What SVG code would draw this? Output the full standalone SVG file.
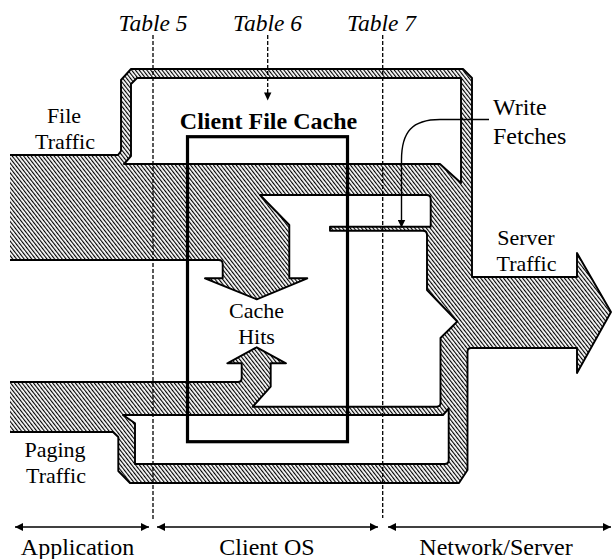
<svg xmlns="http://www.w3.org/2000/svg" width="612" height="559" viewBox="0 0 612 559" font-family="'Liberation Serif', 'Tinos', 'Noto Serif', 'DejaVu Serif', serif">
<defs>
<pattern id="hatch" patternUnits="userSpaceOnUse" width="3" height="10" patternTransform="rotate(-38)">
<rect x="0" y="0" width="1.15" height="10" fill="#000"/>
</pattern>
<marker id="ah" markerUnits="userSpaceOnUse" markerWidth="9" markerHeight="8" refX="8" refY="4" orient="auto-start-reverse">
<path d="M0,0 L8,4 L0,8 z" fill="#000"/>
</marker>
<style>
text{font-size:24px;fill:#000;text-anchor:middle}
.ml{font-size:22px}
.it{font-style:italic;font-size:23.5px}
.bd{font-weight:bold}
.st{text-anchor:start}
.outline{fill:none;stroke:#000;stroke-width:1.9;stroke-linejoin:round}
.dash{fill:none;stroke:#000;stroke-width:1.3;stroke-dasharray:4 2}
.conn{fill:none;stroke:#000;stroke-width:1.4}
</style>
</defs>
<rect width="612" height="559" fill="#fff"/>

<g id="traffic-flows">
<path fill="url(#hatch)" fill-rule="evenodd" d="
M10 155 L118 155 L121 151 L121 80 L131 69 L463 69 L472 78 L472 277 L577 277 L577 253 L611 312 L577 373 L577 348 L471 348 Q467.5 348 467.5 352 L467.5 470 L459 483 L130 483 L118.3 471 L118.3 437 L113 432 L10 432
L10 382 L238 382 Q241.7 382 241.7 378 L241.7 363.3 L227.3 363.3 L256.7 347.3 L286 363.3 L270.7 363.3 L270.7 386.7 L252.7 406.7 L436.7 406.7 Q440.5 406.7 440.5 403 L440.5 338 L457.3 321.5 L427 290 L427 235 Q427 230.7 423 230.7 L330 230.7 L330 226.7 L430.7 226.7 L430.7 199 Q430.7 195 426.7 195 L260 195 L289.3 225 L289.3 278.3 L307.3 278.3 L256.7 299.3 L205 278.3 L222.7 278.3 L222.7 264 Q222.7 260 218.7 260 L10 260 Z
M131 156 L131 84 L137 78 L461 78 L461 183 L440 164 L124 164 Z
M123 415 L443 415 L448.7 408.5 L448.7 460 Q448.7 464 444.7 464 L135 464 L135 423.3 Z"/>
<path class="outline" d="
M10 155 L118 155 L121 151 L121 80 L131 69 L463 69 L472 78 L472 277 L577 277 L577 253 L611 312 L577 373 L577 348 L471 348 Q467.5 348 467.5 352 L467.5 470 L459 483 L130 483 L118.3 471 L118.3 437 L113 432 L10 432
M10 382 L238 382 Q241.7 382 241.7 378 L241.7 363.3 L227.3 363.3 L256.7 347.3 L286 363.3 L270.7 363.3 L270.7 386.7 L252.7 406.7 L436.7 406.7 Q440.5 406.7 440.5 403 L440.5 338 L457.3 321.5 L427 290 L427 235 Q427 230.7 423 230.7 L330 230.7 L330 226.7 L430.7 226.7 L430.7 199 Q430.7 195 426.7 195 L260 195 L289.3 225 L289.3 278.3 L307.3 278.3 L256.7 299.3 L205 278.3 L222.7 278.3 L222.7 264 Q222.7 260 218.7 260 L10 260
M131 156 L131 84 L137 78 L461 78 L461 183 L440 164 L124 164 Z
M123 415 L443 415 L448.7 408.5 L448.7 460 Q448.7 464 444.7 464 L135 464 L135 423.3 Z"/>
</g>

<g id="client-file-cache">
<rect x="187.5" y="136.7" width="160" height="305" fill="none" stroke="#000" stroke-width="3.2"/>
<text class="bd" x="268.5" y="129">Client File Cache</text>
</g>

<g id="labels">
<text id="file-traffic" class="ml" x="64" y="123">File<tspan x="65" dy="26">Traffic</tspan></text>
<text id="write-fetches" class="st" x="493" y="115">Write<tspan x="493" dy="29">Fetches</tspan></text>
<text id="server-traffic" class="ml" x="526" y="245">Server<tspan x="526.5" dy="26">Traffic</tspan></text>
<text id="cache-hits" class="ml" x="256.5" y="318">Cache<tspan x="256.5" dy="26">Hits</tspan></text>
<text id="paging-traffic" class="ml" x="55" y="457">Paging<tspan x="56" dy="26">Traffic</tspan></text>
</g>

<g id="table-markers">
<text class="it" x="153" y="31">Table 5</text>
<text class="it" x="267.5" y="31">Table 6</text>
<text class="it" x="381.5" y="31">Table 7</text>
<line class="dash" x1="153" y1="35" x2="153" y2="520"/>
<line class="dash" x1="382.7" y1="35" x2="382.7" y2="518"/>
</g>

<g id="regions">
<text x="77.5" y="555">Application</text>
<text x="267" y="555">Client OS</text>
<text x="496" y="555">Network/Server</text>
</g>

<g id="connectors">
<path class="dash" d="M267.7 35 L267.7 94" />
<path d="M267.7 100.5 L264 92.5 L271.4 92.5 Z" fill="#000"/>
<path class="conn" d="M489 119.5 L440 119.5 C412 119.5 401.5 132 401.5 160 L401.5 227.5" marker-end="url(#ah)"/>
<line class="conn" x1="15" y1="527" x2="149" y2="527" marker-start="url(#ah)" marker-end="url(#ah)"/>
<line class="conn" x1="157" y1="527" x2="378" y2="527" marker-start="url(#ah)" marker-end="url(#ah)"/>
<line class="conn" x1="388" y1="527" x2="611" y2="527" marker-start="url(#ah)" marker-end="url(#ah)"/>
</g>
</svg>
